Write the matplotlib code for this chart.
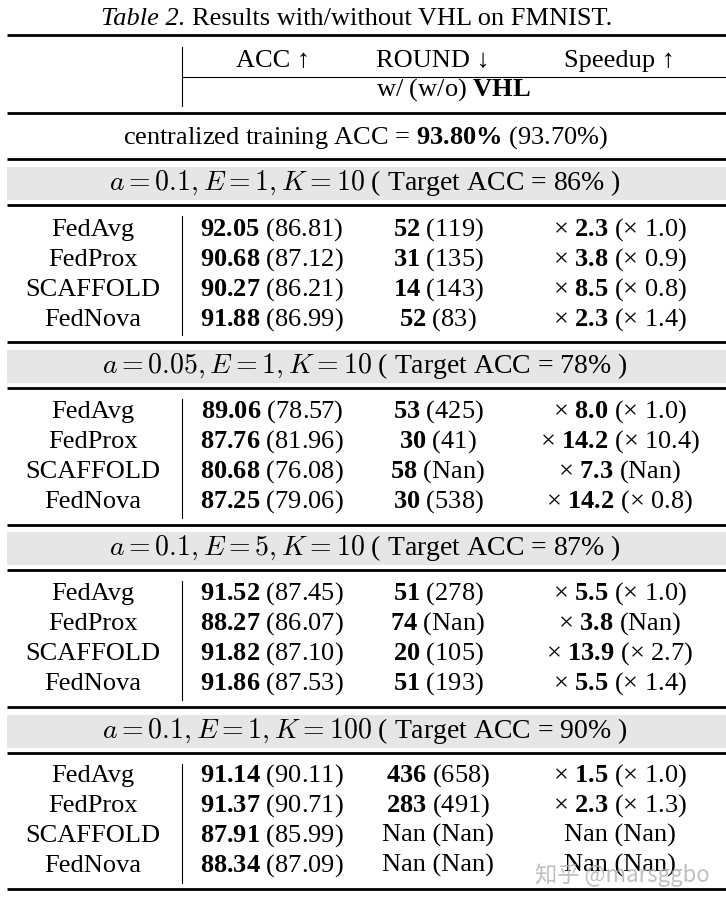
import numpy as np
import matplotlib
matplotlib.use("Agg")
import matplotlib.pyplot as plt
from matplotlib.patches import Rectangle

# table data
methods = ["FedAvg", "FedProx", "SCAFFOLD", "FedNova"]
settings = [r"$a = 0.1, E = 1, K = 10$", r"$a = 0.05, E = 1, K = 10$",
            r"$a = 0.1, E = 5, K = 10$", r"$a = 0.1, E = 1, K = 100$"]
targets = [86, 78, 87, 90]
nan = np.nan
acc_vhl = [[92.05, 90.68, 90.27, 91.88], [89.06, 87.76, 80.68, 87.25],
           [91.52, 88.27, 91.82, 91.86], [91.14, 91.37, 87.91, 88.34]]
acc_base = [[86.81, 87.12, 86.21, 86.99], [78.57, 81.96, 76.08, 79.06],
            [87.45, 86.07, 87.10, 87.53], [90.11, 90.71, 85.99, 87.09]]
round_vhl = [[52, 31, 14, 52], [53, 30, 58, 30], [51, 74, 20, 51], [436, 283, nan, nan]]
round_base = [[119, 135, 143, 83], [425, 41, nan, 538], [278, nan, 105, 193], [658, 491, nan, nan]]
speed_vhl = [[2.3, 3.8, 8.5, 2.3], [8.0, 14.2, 7.3, 14.2], [5.5, 3.8, 13.9, 5.5], [1.5, 2.3, nan, nan]]
speed_base = [[1.0, 0.9, 0.8, 1.4], [1.0, 10.4, nan, 0.8], [1.0, nan, 2.7, 1.4], [1.0, 1.3, nan, nan]]
central_vhl = 93.80
central_base = 93.70

plt.rcParams['font.family'] = ['Liberation Serif', 'DejaVu Serif']
plt.rcParams['mathtext.fontset'] = 'custom'
plt.rcParams['mathtext.rm'] = 'Liberation Serif'
plt.rcParams['mathtext.it'] = 'Liberation Serif:italic'
plt.rcParams['mathtext.bf'] = 'Liberation Serif:bold'

fig = plt.figure(figsize=(7.26, 9.06), dpi=100)
ax = fig.add_axes([0, 0, 1, 1])
ax.set_xlim(0, 726)
ax.set_ylim(906, 0)
ax.axis("off")

fs = 19
bl = 7  # baseline offset from row centre


def put(x, y, s, size=fs, ha="center", **kw):
    ax.text(x, y + bl, s, ha=ha, va="baseline", fontsize=size, **kw)


def fmt_round(v, b):
    if np.isnan(v):
        return "Nan (Nan)"
    bs = "Nan" if np.isnan(b) else "%d" % b
    return r"$\mathbf{%d}$ (%s)" % (v, bs)


def fmt_speed(v, b):
    if np.isnan(v):
        return "Nan (Nan)"
    bs = "Nan" if np.isnan(b) else "× %.1f" % b
    return r"× $\mathbf{%.1f}$ (%s)" % (v, bs)


def hrule(y, lw=2.0, x0=7, x1=726):
    ax.plot([x0, x1], [y, y], color="black", lw=lw, solid_capstyle="butt")


def vrule(y0, y1, x=182):
    ax.plot([x, x], [y0, y1], color="black", lw=0.8)


# title and header
put(185, 18, "Table 2.", ha="right", style="italic")
put(192, 18, "Results with/without VHL on FMNIST.", ha="left")
hrule(35)
put(273, 60, "ACC ↑")
put(433, 60, "ROUND ↓")
put(620, 60, "Speedup ↑")
ax.plot([182, 726], [77, 77], color="black", lw=0.8)
put(453, 89, r"w/ (w/o) $\mathbf{VHL}$")
vrule(47, 106)
hrule(113)
put(366, 137, r"centralized training ACC = $\mathbf{%.2f\%%}$ (%.2f%%)" % (central_vhl, central_base))
hrule(159)

rule_top = [159, 342, 524, 707]
first_row = [229, 411, 593, 775]
for i in range(4):
    top = rule_top[i]
    ax.add_patch(Rectangle((7, top + 8), 719, 33, color="#e6e6e6", lw=0, zorder=0))
    put(365, top + 24, settings[i] + " ( Target ACC = %d%% )" % targets[i],
        size=20, math_fontfamily="cm")
    hrule(top + 46)
    for j in range(4):
        y = first_row[i] + 30 * j
        put(93, y, methods[j])
        put(272, y, r"$\mathbf{%.2f}$ (%.2f)" % (acc_vhl[i][j], acc_base[i][j]))
        put(438, y, fmt_round(round_vhl[i][j], round_base[i][j]))
        put(620, y, fmt_speed(speed_vhl[i][j], speed_base[i][j]))
    vrule(top + 57, top + 176)
    hrule(top + 183 if i < 3 else 889)

# watermark
ax.text(622, 875, "知乎 @marsggbo", ha="center", va="center", fontsize=16,
        family=["Noto Sans CJK SC", "DejaVu Sans"], color="#b0b0b0", alpha=0.8)

fig.savefig("out.png", dpi=100)
